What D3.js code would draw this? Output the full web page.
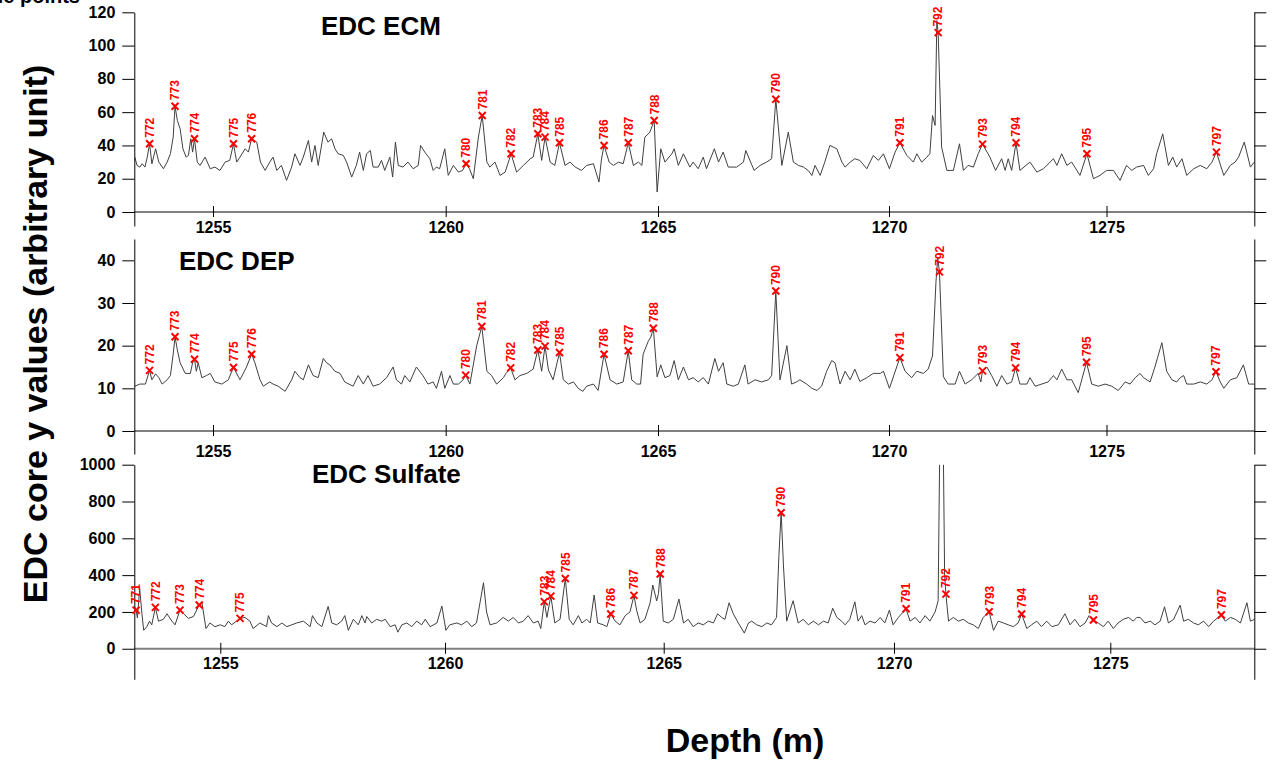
<!DOCTYPE html>
<html>
<head>
<meta charset="utf-8">
<script src="https://cdn.jsdelivr.net/npm/d3@7/dist/d3.min.js"></script>
<style>
  html, body { margin: 0; padding: 0; background: #fff; }
  svg { display: block; }
  text { font-family: "Liberation Sans", Arial, Helvetica, sans-serif; }
</style>
</head>
<body>
<svg id="chart" width="1283" height="761"></svg>
<script>
// ---------------- DATA ----------------
const depthTicks = [1255, 1260, 1265, 1270, 1275];
const ecmTicks = [0, 20, 40, 60, 80, 100, 120];
const depTicks = [0, 10, 20, 30, 40];
const so4Ticks = [0, 200, 400, 600, 800, 1000];

// EDC ECM
const ecmDepth = [1253.31,1253.36,1253.42,1253.47,1253.53,1253.58,1253.63,1253.68,1253.76,1253.83,1253.93,1254.01,1254.08,1254.14,1254.18,1254.23,1254.29,1254.35,1254.42,1254.47,1254.52,1254.56,1254.60,1254.66,1254.72,1254.83,1254.94,1255.04,1255.15,1255.26,1255.36,1255.44,1255.51,1255.58,1255.69,1255.76,1255.83,1255.94,1256.02,1256.12,1256.22,1256.29,1256.37,1256.47,1256.58,1256.69,1256.76,1256.87,1256.94,1257.05,1257.12,1257.19,1257.26,1257.38,1257.47,1257.55,1257.62,1257.69,1257.80,1257.87,1257.98,1258.08,1258.15,1258.23,1258.30,1258.38,1258.44,1258.55,1258.62,1258.69,1258.80,1258.86,1258.92,1258.98,1259.08,1259.19,1259.30,1259.41,1259.46,1259.55,1259.66,1259.73,1259.80,1259.87,1259.98,1260.06,1260.18,1260.30,1260.40,1260.48,1260.56,1260.65,1260.77,1260.86,1260.97,1261.04,1261.16,1261.28,1261.40,1261.54,1261.67,1261.83,1261.99,1262.06,1262.17,1262.26,1262.34,1262.46,1262.57,1262.68,1262.81,1262.93,1263.05,1263.20,1263.32,1263.48,1263.61,1263.67,1263.73,1263.85,1263.95,1264.07,1264.18,1264.30,1264.42,1264.54,1264.62,1264.69,1264.81,1264.91,1264.98,1265.06,1265.15,1265.30,1265.35,1265.44,1265.55,1265.69,1265.76,1265.87,1265.98,1266.05,1266.22,1266.31,1266.41,1266.52,1266.70,1266.85,1266.90,1267.08,1267.21,1267.35,1267.46,1267.55,1267.68,1267.82,1267.93,1268.04,1268.15,1268.25,1268.33,1268.40,1268.51,1268.61,1268.72,1268.87,1268.98,1269.05,1269.16,1269.26,1269.37,1269.52,1269.66,1269.77,1269.88,1270.01,1270.14,1270.25,1270.41,1270.56,1270.64,1270.75,1270.87,1270.94,1271.00,1271.06,1271.10,1271.13,1271.21,1271.33,1271.48,1271.62,1271.71,1271.82,1271.94,1272.05,1272.15,1272.32,1272.45,1272.59,1272.67,1272.74,1272.82,1272.92,1273.01,1273.24,1273.40,1273.55,1273.78,1273.86,1273.97,1274.09,1274.20,1274.39,1274.55,1274.70,1274.85,1275.00,1275.16,1275.31,1275.46,1275.58,1275.69,1275.85,1275.96,1276.08,1276.15,1276.29,1276.42,1276.52,1276.61,1276.73,1276.84,1277.00,1277.15,1277.30,1277.42,1277.52,1277.69,1277.84,1277.95,1278.03,1278.16,1278.30,1278.39];
const ecmValues = [33,28,27,29,27,33,41,29,38,30,26,30,35,45,63.6,55,50,38,33,34,44,36,44,30,28,33,26,27,25,30,31,41,30,33,38,36,44,42,30,25,30,33,25,28,19,27,35,28,33,43,30,40,28,48,42,44,38,35,34,30,21,28,36,25,35,37,27,27,31,25,33,21,42,28,27,30,26,28,40,36,32,25,27,26,38,22,28,24,25,29,26,20,45,58,30,27,30,22,24,35,24,28,32,33,47,31,45,30,28,41.6,28,30,27,25,28,29,18,32,40,30,28,30,29,41.6,28,30,28,45,48,55,12,38,30,35,38,28,35,27,30,26,33,26,38,30,36,27,27,30,37,25,28,30,32,67.8,28,48,30,28,27,25,22,28,22,30,40,38,30,27,30,32,31,26,34,31,35,26,36,41.6,34,30,35,30,33,35,58,52,115,107.8,39,25,25,41,25,28,27,35,40.8,33,25,32,25,32,25,41.6,25,30,24,26,32,28,35,28,30,22,35,20,22,25,25,19,28,25,27,28,22,26,35,47,28,33,27,32,22,26,28,26,30,36,22,28,30,33,42,27,30];
const ecmTieLabels = ["772","773","774","775","776","780","781","782","783","784","785","786","787","788","790","791","792","793","794","795","797"];
const ecmTieDepth = [1253.63,1254.18,1254.60,1255.44,1255.83,1260.48,1260.86,1261.54,1262.17,1262.34,1262.68,1263.73,1264.30,1264.91,1267.55,1270.25,1271.13,1272.15,1272.92,1274.55,1277.52];
const ecmTieValues = [41,63.6,44,41,44,29,58,35,47,45,41.6,40,41.6,55,67.8,41.6,107.8,40.8,41.6,35,36];

// EDC DEP
const depDepth = [1253.31,1253.42,1253.54,1253.63,1253.68,1253.76,1253.83,1253.90,1254.01,1254.08,1254.14,1254.18,1254.23,1254.29,1254.40,1254.51,1254.56,1254.60,1254.64,1254.68,1254.76,1254.86,1254.94,1255.04,1255.19,1255.33,1255.44,1255.58,1255.72,1255.83,1255.90,1256.01,1256.08,1256.22,1256.29,1256.40,1256.55,1256.69,1256.76,1256.87,1256.94,1257.05,1257.15,1257.26,1257.37,1257.44,1257.51,1257.62,1257.73,1257.83,1258.01,1258.12,1258.23,1258.33,1258.44,1258.58,1258.73,1258.87,1258.94,1259.05,1259.12,1259.23,1259.37,1259.51,1259.62,1259.73,1259.80,1259.91,1259.98,1260.10,1260.18,1260.30,1260.41,1260.47,1260.57,1260.73,1260.85,1260.97,1261.08,1261.20,1261.36,1261.42,1261.53,1261.63,1261.75,1261.91,1262.06,1262.17,1262.26,1262.34,1262.42,1262.53,1262.68,1262.77,1262.89,1263.01,1263.12,1263.23,1263.32,1263.48,1263.59,1263.73,1263.87,1264.03,1264.18,1264.30,1264.38,1264.50,1264.59,1264.65,1264.77,1264.83,1264.89,1264.98,1265.06,1265.15,1265.26,1265.35,1265.44,1265.55,1265.66,1265.76,1265.87,1265.98,1266.09,1266.23,1266.31,1266.41,1266.49,1266.63,1266.74,1266.88,1266.95,1267.10,1267.24,1267.39,1267.46,1267.55,1267.64,1267.79,1267.89,1268.00,1268.07,1268.22,1268.33,1268.44,1268.54,1268.65,1268.76,1268.83,1268.94,1269.05,1269.16,1269.26,1269.37,1269.52,1269.66,1269.81,1269.88,1270.01,1270.25,1270.37,1270.52,1270.64,1270.79,1270.90,1271.00,1271.08,1271.12,1271.16,1271.25,1271.36,1271.52,1271.62,1271.75,1271.90,1272.05,1272.11,1272.15,1272.25,1272.36,1272.48,1272.59,1272.71,1272.82,1272.91,1273.01,1273.17,1273.24,1273.36,1273.51,1273.66,1273.78,1273.86,1273.97,1274.09,1274.20,1274.35,1274.54,1274.66,1274.81,1274.97,1275.12,1275.27,1275.43,1275.54,1275.66,1275.77,1275.85,1276.00,1276.11,1276.27,1276.38,1276.50,1276.61,1276.69,1276.77,1276.84,1277.00,1277.15,1277.30,1277.42,1277.51,1277.61,1277.69,1277.84,1277.99,1278.14,1278.26,1278.40];
const depValues = [10.5,11,11,14.2,12,13.4,12.5,11,12,13,18,22.1,19,16,13.5,13.5,16,16.8,14,16,12.5,13,13.5,11.5,11,12,14.9,12,15,18,16,12,10.5,11.5,11,10.5,9.3,12,14,12.5,12,15.5,13,12.5,17,16,15.5,14,13.5,11.5,10.5,13,11,13,10.5,11,12.5,15,12,11,13,11.5,15,13,11,11.5,10,14,10,13,11,11,12,13.1,11,20,24.5,14,13,11,12.5,13.5,14.8,12,13,13.5,14.5,19,14,19.9,14.3,12,18.4,12,11,11.5,10,9.3,10.5,11,9.5,18,12,11,11.5,18.8,12,11,11,18,21,22,24.1,12.7,15.5,12.5,13,16.5,12,15,12,12.5,11.5,12.5,11,17,14,16,11,10.5,11,15.5,11,12,11.5,12,13,32.8,12,20,11,11.5,12,11,10,9.5,10.5,14,16.5,16,11,14,12,14.5,11.6,12.5,13.5,13.5,14,10,17.2,14,12.5,14,13.5,14.5,17.6,35,40.5,37.3,12.7,11,11,14,11,12,13.5,11.5,14.1,15,13,10.5,13,11,11.5,14.8,11,11,12.5,10.5,11,11.5,13,12,14.5,12,12,9,16.1,11,10.5,11,10.5,9.5,11.5,11,12.5,13.5,12.5,11.5,15,20.7,14,12,11.5,12.5,13,11,11,11.5,11,12,13.9,11.5,10,12,12.5,15.5,11,11];
const depTieLabels = ["772","773","774","775","776","780","781","782","783","784","785","786","787","788","790","791","792","793","794","795","797"];
const depTieDepth = [1253.63,1254.18,1254.60,1255.44,1255.83,1260.47,1260.85,1261.53,1262.17,1262.34,1262.68,1263.73,1264.30,1264.89,1267.55,1270.25,1271.16,1272.15,1272.91,1274.54,1277.51];
const depTieValues = [14.2,22.1,16.8,14.9,18,13.1,24.5,14.8,19,19.9,18.4,18,18.8,24.1,32.8,17.2,37.3,14.1,14.8,16.1,13.9];

// EDC Sulfate
const so4Depth = [1253.09,1253.12,1253.15,1253.20,1253.25,1253.29,1253.36,1253.42,1253.47,1253.55,1253.62,1253.73,1253.81,1253.92,1253.99,1254.10,1254.18,1254.29,1254.40,1254.53,1254.59,1254.68,1254.77,1254.88,1255.00,1255.10,1255.18,1255.25,1255.36,1255.44,1255.55,1255.66,1255.73,1255.88,1256.03,1256.07,1256.14,1256.26,1256.37,1256.48,1256.59,1256.70,1256.85,1257.00,1257.05,1257.15,1257.26,1257.40,1257.48,1257.59,1257.70,1257.77,1257.85,1257.96,1258.07,1258.15,1258.22,1258.26,1258.37,1258.48,1258.59,1258.67,1258.78,1258.89,1258.95,1259.04,1259.15,1259.26,1259.37,1259.48,1259.56,1259.67,1259.82,1259.93,1260.02,1260.11,1260.27,1260.38,1260.50,1260.61,1260.72,1260.80,1260.88,1260.95,1261.03,1261.18,1261.33,1261.45,1261.56,1261.68,1261.79,1261.90,1262.02,1262.13,1262.19,1262.27,1262.33,1262.42,1262.51,1262.63,1262.75,1262.84,1262.93,1263.05,1263.13,1263.24,1263.32,1263.41,1263.49,1263.62,1263.70,1263.79,1263.89,1264.00,1264.12,1264.23,1264.32,1264.38,1264.46,1264.57,1264.69,1264.75,1264.84,1264.88,1264.92,1264.99,1265.10,1265.21,1265.33,1265.43,1265.53,1265.64,1265.75,1265.86,1265.97,1266.08,1266.17,1266.26,1266.33,1266.42,1266.51,1266.62,1266.75,1266.84,1266.91,1267.02,1267.13,1267.24,1267.34,1267.45,1267.50,1267.55,1267.60,1267.67,1267.81,1267.92,1268.03,1268.14,1268.25,1268.36,1268.47,1268.57,1268.67,1268.76,1268.86,1268.94,1269.04,1269.15,1269.22,1269.30,1269.37,1269.48,1269.59,1269.70,1269.80,1269.90,1269.98,1270.10,1270.28,1270.37,1270.49,1270.60,1270.72,1270.83,1270.95,1271.02,1271.06,1271.10,1271.14,1271.17,1271.20,1271.26,1271.37,1271.49,1271.60,1271.72,1271.83,1271.95,1272.06,1272.20,1272.30,1272.41,1272.53,1272.64,1272.76,1272.87,1272.95,1273.07,1273.18,1273.30,1273.41,1273.53,1273.65,1273.80,1273.95,1274.07,1274.18,1274.30,1274.42,1274.51,1274.61,1274.72,1274.84,1274.95,1275.07,1275.18,1275.30,1275.42,1275.53,1275.61,1275.69,1275.80,1275.92,1276.03,1276.15,1276.25,1276.34,1276.46,1276.61,1276.69,1276.80,1276.92,1277.03,1277.15,1277.27,1277.38,1277.56,1277.65,1277.77,1277.88,1278.00,1278.15,1278.23,1278.33];
const so4Values = [228,210,167,328,190,100,120,150,130,225,150,160,190,150,130,210,190,165,175,238,250,110,140,120,130,120,150,130,150,165,170,150,110,140,120,180,140,120,140,120,130,140,150,120,180,140,120,230,140,130,150,180,100,160,130,180,140,175,140,160,150,160,120,130,90,130,140,120,150,130,160,120,140,232,100,130,140,130,150,120,140,250,359,200,130,140,170,150,170,140,150,180,140,150,110,256,170,286,140,160,382,160,130,180,140,160,140,292,140,130,120,189,150,130,180,200,290,210,140,160,250,346,260,300,406,150,140,160,270,140,160,120,140,130,150,140,190,170,160,250,190,140,85,140,150,130,120,140,130,170,500,745,450,150,261,140,160,130,150,130,150,140,220,170,150,130,160,255,150,180,130,150,140,170,140,210,130,170,217,150,170,140,180,150,200,260,1150,1200,1100,400,297,150,170,150,160,140,130,110,170,201,100,150,140,130,120,140,189,110,130,150,120,150,120,130,190,130,160,120,140,180,156,140,120,150,110,140,160,170,150,170,170,140,150,130,150,228,140,160,237,150,160,140,130,150,120,150,183,150,170,160,140,250,150,160];
const so4TieLabels = ["771","772","773","774","775","783","784","785","786","787","788","790","791","792","793","794","795","797"];
const so4TieDepth = [1253.12,1253.55,1254.10,1254.53,1255.44,1262.27,1262.42,1262.75,1263.79,1264.32,1264.92,1267.55,1270.28,1271.20,1272.20,1272.95,1274.61,1277.56];
const so4TieValues = [210,225,210,238,165,256,286,382,189,290,406,739,217,297,201,189,156,183];

// ---------------- LAYOUT ----------------
const svg = d3.select("#chart");
const X0 = 134.3, X1 = 1254.3;
const FONT = "'Liberation Sans', Arial, sans-serif";

// depth axis is non-linear (piecewise), read from tick positions of each panel
const xUpper = d3.scaleLinear()
  .domain([1253.30, 1255, 1260, 1265, 1270, 1275, 1278.39])
  .range([X0, 213, 445.7, 658, 889, 1106.5, X1]);
const xLower = d3.scaleLinear()
  .domain([1253.08, 1255, 1260, 1265, 1270, 1275, 1278.32])
  .range([X0, 220.3, 445, 663.7, 894, 1110.3, X1]);

const panels = [
  { title: "EDC ECM", titleX: 321, titleY: 35, depth: ecmDepth, values: ecmValues, ticks: ecmTicks,
    tieL: ecmTieLabels, tieD: ecmTieDepth, tieV: ecmTieValues,
    x: xUpper, y: d3.scaleLinear().domain([-8.4, 120]).range([226, 12.3]), labelPad: 4.5 },
  { title: "EDC DEP", titleX: 179, titleY: 270, depth: depDepth, values: depValues, ticks: depTicks,
    tieL: depTieLabels, tieD: depTieDepth, tieV: depTieValues,
    x: xUpper, y: d3.scaleLinear().domain([-5.39, 45]).range([454, 239]), labelPad: 9.5 },
  { title: "EDC Sulfate", titleX: 312, titleY: 483.3, depth: so4Depth, values: so4Values, ticks: so4Ticks,
    tieL: so4TieLabels, tieD: so4TieDepth, tieV: so4TieValues,
    x: xLower, y: d3.scaleLinear().domain([-166, 1000]).range([679.3, 464.7]), labelPad: 4 }
];

panels.forEach((p, i) => {
  const g = svg.append("g");
  const y = p.y, x = p.x;
  const [yb, yt] = y.range();

  g.append("clipPath").attr("id", "clip" + i)
    .append("rect").attr("x", X0).attr("y", yt).attr("width", X1 - X0).attr("height", yb - yt);

  // zero line (gray)
  g.append("line")
    .attr("x1", X0).attr("x2", X1).attr("y1", y(0)).attr("y2", y(0))
    .attr("stroke", "#808080").attr("stroke-width", 2);

  // depth axis ticks crossing the zero line
  const xa = g.append("g").attr("transform", `translate(0,${y(0) - 6})`)
    .call(d3.axisBottom(x).tickValues(depthTicks).tickSize(11).tickSizeOuter(0).tickPadding(p.labelPad).tickFormat(d3.format("d")));
  xa.select(".domain").remove();
  xa.selectAll("line").attr("stroke", "#000").attr("stroke-width", 1);
  xa.selectAll("text").attr("font-size", 16).attr("font-weight", "bold").attr("fill", "#000")
    .style("font-family", FONT);

  // data line
  const pts = p.depth.map((d, k) => [d, p.values[k]]);
  g.append("path").datum(pts)
    .attr("clip-path", `url(#clip${i})`)
    .attr("fill", "none").attr("stroke", "#404040").attr("stroke-width", 1)
    .attr("stroke-linejoin", "round")
    .attr("d", d3.line().x(d => x(d[0])).y(d => y(d[1])));

  // left axis
  const la = g.append("g").attr("transform", `translate(${X0},0)`)
    .call(d3.axisLeft(y).tickValues(p.ticks).tickSize(12).tickSizeOuter(0).tickPadding(7).tickFormat(d3.format("d")));
  la.selectAll("text").attr("font-size", 16).attr("font-weight", "bold").attr("fill", "#000")
    .style("font-family", FONT);
  la.selectAll("line,path").attr("stroke", "#000");

  // right axis
  const ra = g.append("g").attr("transform", `translate(${X1},0)`)
    .call(d3.axisRight(y).tickValues(p.ticks).tickSize(12).tickSizeOuter(0).tickFormat(""));
  ra.selectAll("line,path").attr("stroke", "#000");

  // title
  g.append("text").attr("x", p.titleX).attr("y", p.titleY)
    .attr("font-size", 26).attr("font-weight", "bold").attr("fill", "#000").text(p.title);

  // tie points
  const ties = p.tieL.map((l, k) => ({ l, d: p.tieD[k], v: p.tieV[k] }));
  const tg = g.append("g");
  tg.selectAll("path.tie").data(ties).join("path").attr("class", "tie")
    .attr("transform", t => `translate(${x(t.d)},${y(t.v)})`)
    .attr("d", "M-3.5,-3.5L3.5,3.5M-3.5,3.5L3.5,-3.5")
    .attr("stroke", "#ff0000").attr("stroke-width", 2).attr("fill", "none");
  tg.selectAll("text.tie").data(ties).join("text").attr("class", "tie")
    .attr("transform", t => `translate(${x(t.d)},${y(t.v) - 6}) rotate(-90)`)
    .attr("dy", "0.36em")
    .attr("font-size", 12).attr("font-weight", "bold").attr("fill", "#ff0000")
    .text(t => t.l);
});

// axis titles
svg.append("text")
  .attr("transform", "translate(35,334) rotate(-90)")
  .attr("text-anchor", "middle").attr("dy", "0.36em")
  .attr("font-size", 34).attr("font-weight", "bold").attr("fill", "#000")
  .text("EDC core y values (arbitrary unit)");

svg.append("text")
  .attr("x", 745).attr("y", 752)
  .attr("text-anchor", "middle")
  .attr("font-size", 34).attr("font-weight", "bold").attr("fill", "#000")
  .text("Depth (m)");

// legend text at the top-left, cut by the top edge as in the reference
svg.append("text")
  .attr("x", 80).attr("y", 3)
  .attr("text-anchor", "end")
  .attr("font-size", 20).attr("font-weight", "bold").attr("fill", "#000")
  .text("tie points");
</script>
</body>
</html>
